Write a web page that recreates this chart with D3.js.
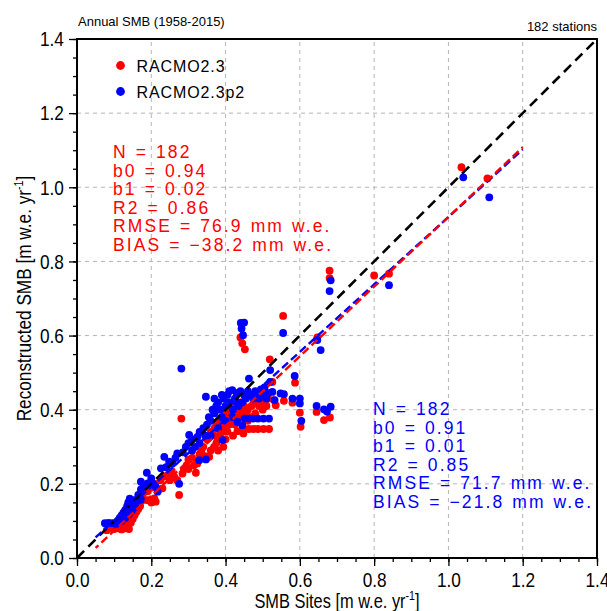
<!DOCTYPE html>
<html>
<head>
<meta charset="utf-8">
<script src="https://cdn.jsdelivr.net/npm/d3@7"></script>
<style>
  body { margin: 0; background: #fff; }
  svg text { font-family: "Liberation Sans", Arial, sans-serif; }
</style>
</head>
<body>
<div id="chart"></div>
<script>
// ---- data ----
const axisTicks = [0, 0.2, 0.4, 0.6, 0.8, 1.0, 1.2, 1.4];
const minorTicks = d3.range(0, 29).map(i => i * 0.05);

const seriesNames = ['RACMO2.3', 'RACMO2.3p2'];

// RACMO2.3 : [site, reconstructed]
const racmo23 = [
    [0.08, 0.075], [0.09, 0.08], [0.1, 0.078], [0.11, 0.08], [0.12, 0.077], [0.13, 0.08], [0.14, 0.078],
    [0.1, 0.09], [0.115, 0.088], [0.125, 0.092], [0.135, 0.09], [0.145, 0.095], [0.15, 0.105],
    [0.155, 0.115], [0.16, 0.125], [0.165, 0.132], [0.14, 0.1], [0.13, 0.1], [0.12, 0.1], [0.15, 0.13],
    [0.17, 0.14], [0.175, 0.155], [0.177, 0.17], [0.19, 0.156], [0.2, 0.15], [0.208, 0.161], [0.212, 0.152],
    [0.19, 0.18], [0.2, 0.19], [0.21, 0.2], [0.22, 0.185], [0.23, 0.188], [0.225, 0.21], [0.235, 0.22],
    [0.245, 0.225], [0.25, 0.21], [0.255, 0.235], [0.262, 0.219], [0.27, 0.21], [0.275, 0.17],
    [0.284, 0.228], [0.288, 0.24], [0.281, 0.376], [0.3, 0.24], [0.32, 0.23],
    [0.295, 0.25], [0.3, 0.265], [0.31, 0.27], [0.315, 0.25], [0.324, 0.255], [0.33, 0.28], [0.335, 0.29],
    [0.34, 0.3], [0.345, 0.275], [0.356, 0.273], [0.36, 0.29], [0.369, 0.3], [0.375, 0.31], [0.38, 0.32],
    [0.385, 0.33], [0.394, 0.3], [0.39, 0.34], [0.4, 0.35], [0.405, 0.341], [0.41, 0.36], [0.415, 0.37],
    [0.42, 0.385], [0.425, 0.36], [0.432, 0.342], [0.435, 0.38], [0.44, 0.395], [0.448, 0.336],
    [0.35, 0.32], [0.36, 0.34], [0.37, 0.35], [0.375, 0.365], [0.385, 0.37], [0.39, 0.38], [0.4, 0.39],
    [0.41, 0.4], [0.42, 0.41], [0.43, 0.4], [0.44, 0.42], [0.45, 0.41], [0.455, 0.39], [0.46, 0.4],
    [0.47, 0.41], [0.48, 0.42], [0.49, 0.41], [0.5, 0.4], [0.505, 0.42], [0.51, 0.41], [0.515, 0.43],
    [0.495, 0.43], [0.47, 0.38], [0.48, 0.39], [0.37, 0.33], [0.39, 0.36], [0.41, 0.38], [0.43, 0.37],
    [0.46, 0.37], [0.38, 0.29], [0.4, 0.32], [0.42, 0.33],
    [0.45, 0.348], [0.463, 0.348], [0.475, 0.348], [0.487, 0.348], [0.502, 0.348], [0.517, 0.348],
    [0.519, 0.536], [0.526, 0.475], [0.53, 0.426], [0.535, 0.412], [0.557, 0.424], [0.58, 0.419],
    [0.587, 0.473], [0.555, 0.653], [0.6, 0.392], [0.602, 0.354], [0.645, 0.394], [0.665, 0.372],
    [0.681, 0.379], [0.647, 0.595], [0.44, 0.595], [0.445, 0.579], [0.452, 0.563],
    [0.68, 0.775], [0.68, 0.755], [0.8, 0.762], [0.84, 0.767], [1.035, 1.054], [1.105, 1.024]
];

// RACMO2.3p2 : [site, reconstructed]
const racmo23p2 = [
    [0.075, 0.094], [0.085, 0.095], [0.095, 0.094], [0.105, 0.092], [0.11, 0.1], [0.115, 0.108],
    [0.12, 0.115], [0.125, 0.122], [0.13, 0.13], [0.135, 0.14], [0.138, 0.15], [0.142, 0.16],
    [0.12, 0.1], [0.13, 0.108], [0.14, 0.118], [0.148, 0.128], [0.145, 0.145], [0.15, 0.156],
    [0.16, 0.157], [0.168, 0.155], [0.172, 0.158], [0.158, 0.138], [0.165, 0.17], [0.172, 0.185],
    [0.172, 0.206], [0.18, 0.195], [0.188, 0.23], [0.19, 0.201], [0.2, 0.215], [0.205, 0.2],
    [0.212, 0.192], [0.217, 0.179], [0.226, 0.242], [0.235, 0.273], [0.24, 0.245], [0.248, 0.26],
    [0.257, 0.255], [0.265, 0.27], [0.27, 0.282], [0.275, 0.2], [0.281, 0.511], [0.285, 0.285],
    [0.293, 0.3], [0.3, 0.31], [0.302, 0.332], [0.31, 0.32], [0.318, 0.3], [0.324, 0.327],
    [0.329, 0.264], [0.347, 0.266], [0.33, 0.34], [0.34, 0.35], [0.345, 0.33], [0.347, 0.435],
    [0.35, 0.36], [0.355, 0.38], [0.36, 0.37], [0.365, 0.4], [0.37, 0.39], [0.375, 0.41], [0.38, 0.42],
    [0.385, 0.4], [0.39, 0.38], [0.392, 0.318], [0.395, 0.43], [0.4, 0.41], [0.405, 0.44], [0.41, 0.42],
    [0.418, 0.453], [0.42, 0.4], [0.425, 0.43], [0.43, 0.445], [0.432, 0.367], [0.435, 0.41],
    [0.44, 0.45], [0.445, 0.358], [0.445, 0.42], [0.45, 0.44], [0.455, 0.43], [0.46, 0.45],
    [0.463, 0.484], [0.47, 0.44], [0.475, 0.43], [0.48, 0.45], [0.485, 0.44], [0.49, 0.43],
    [0.495, 0.455], [0.5, 0.44], [0.505, 0.46], [0.51, 0.43], [0.515, 0.445],
    [0.36, 0.33], [0.38, 0.35], [0.4, 0.37], [0.42, 0.38], [0.37, 0.43], [0.39, 0.44], [0.41, 0.45],
    [0.43, 0.42], [0.33, 0.31], [0.31, 0.29],
    [0.451, 0.376], [0.463, 0.376], [0.475, 0.376], [0.487, 0.376], [0.502, 0.376], [0.517, 0.376],
    [0.52, 0.507], [0.52, 0.475], [0.526, 0.448], [0.532, 0.426], [0.548, 0.444], [0.557, 0.442],
    [0.58, 0.43], [0.586, 0.491], [0.6, 0.43], [0.6, 0.417], [0.604, 0.37], [0.555, 0.607],
    [0.441, 0.634], [0.45, 0.635], [0.443, 0.619], [0.447, 0.601], [0.645, 0.41], [0.665, 0.401],
    [0.683, 0.408], [0.673, 0.395], [0.647, 0.588], [0.656, 0.561], [0.683, 0.749], [0.68, 0.72],
    [0.84, 0.736], [1.04, 1.027], [1.11, 0.973]
];

// regression fits : [slope, intercept], drawn over [0.05, 1.2]
const fitRange = [0.05, 1.2];
const fit23 = [0.94, -0.02];
const fit23p2 = [0.91, 0.01];

const stats23 = ['N = 182', 'b0 = 0.94', 'b1 = 0.02', 'R2 = 0.86', 'RMSE = 76.9 mm w.e.', 'BIAS = \u221238.2 mm w.e.'];
const stats23p2 = ['N = 182', 'b0 = 0.91', 'b1 = 0.01', 'R2 = 0.85', 'RMSE = 71.7 mm w.e.', 'BIAS = \u221221.8 mm w.e.'];

// ---- layout ----
const width = 607, height = 611;
const margin = [39, 53, 77, 10]; // [top, bottom, left, right]
const red = '#ff0000', blue = '#0000ff';
const squeeze = 'scale(0.82,1)'; // narrow helvetica look

const svg = d3.select('#chart').append('svg')
    .attr('width', width).attr('height', height);

const x = d3.scaleLinear([0, 1.4], [margin[2], width - margin[3]]);
const y = d3.scaleLinear([0, 1.4], [height - margin[1], margin[0]]);

// Grid :
const grid = svg.append('g')
    .attr('stroke', '#b4b4b4').attr('stroke-width', 1).attr('stroke-dasharray', '4,4');
grid.selectAll('line.gx').data(axisTicks.slice(1, -1)).join('line')
    .attr('x1', d => x(d)).attr('x2', d => x(d))
    .attr('y1', y(0)).attr('y2', y(1.4));
grid.selectAll('line.gy').data(axisTicks.slice(1, -1)).join('line')
    .attr('y1', d => y(d)).attr('y2', d => y(d))
    .attr('x1', x(0)).attr('x2', x(1.4));

// Points :
svg.append('g').selectAll('circle').data(racmo23).join('circle')
    .attr('cx', d => x(d[0])).attr('cy', d => y(d[1])).attr('r', 3.9).attr('fill', red);
svg.append('g').selectAll('circle').data(racmo23p2).join('circle')
    .attr('cx', d => x(d[0])).attr('cy', d => y(d[1])).attr('r', 3.9).attr('fill', blue);

// 1:1 line and fits :
const line = d3.line().x(d => x(d[0])).y(d => y(d[1]));
svg.append('path')
    .datum([[0, 0], [1.4, 1.4]])
    .attr('d', line).attr('fill', 'none')
    .attr('stroke', '#000').attr('stroke-width', 2.6).attr('stroke-dasharray', '10,6');

[[fit23p2, blue, 0], [fit23, red, 4]].forEach(([f, color, offset]) => {
    svg.append('path')
        .datum(fitRange.map(v => [v, f[0] * v + f[1]]))
        .attr('d', line).attr('fill', 'none')
        .attr('stroke', color).attr('stroke-width', 2.4)
        .attr('stroke-dasharray', '8,4').attr('stroke-dashoffset', offset);
});

// Axis :
const fmt = d3.format('.1f');
const axisX = svg.append('g').attr('transform', `translate(0,${y(0)})`);
axisX.call(d3.axisBottom(x).tickValues(minorTicks).tickSize(4).tickSizeOuter(0).tickFormat(''));
axisX.call(g => g.append('g')
    .call(d3.axisBottom(x).tickValues(axisTicks).tickSize(8).tickSizeOuter(0).tickPadding(6).tickFormat(fmt)));

const axisY = svg.append('g').attr('transform', `translate(${x(0)},0)`);
axisY.call(d3.axisLeft(y).tickValues(minorTicks).tickSize(4).tickSizeOuter(0).tickFormat(''));
axisY.call(g => g.append('g')
    .call(d3.axisLeft(y).tickValues(axisTicks).tickSize(8).tickSizeOuter(0).tickPadding(8).tickFormat(fmt)));

svg.selectAll('.domain').remove();
svg.selectAll('.tick line').attr('stroke', '#000').attr('stroke-width', 1.3);
svg.selectAll('.tick text')
    .attr('fill', '#000')
    .style('font-family', '"Liberation Sans", Arial, sans-serif')
    .style('font-size', '21px')
    .attr('transform', squeeze);

// Frame :
svg.append('rect')
    .attr('x', x(0)).attr('y', y(1.4))
    .attr('width', x(1.4) - x(0)).attr('height', y(0) - y(1.4))
    .attr('fill', 'none').attr('stroke', '#000').attr('stroke-width', 2);

// Axis labels :
const labelX = svg.append('text')
    .attr('transform', `translate(${(x(0) + x(1.4)) / 2},608) ${squeeze}`)
    .attr('text-anchor', 'middle').style('font-size', '20px');
labelX.append('tspan').text('SMB Sites [m w.e. yr');
labelX.append('tspan').attr('dy', -8).style('font-size', '13px').text('-1');
labelX.append('tspan').attr('dy', 8).text(']');

const labelY = svg.append('text')
    .attr('transform', `translate(31,${(y(0) + y(1.4)) / 2}) rotate(-90) ${squeeze}`)
    .attr('text-anchor', 'middle').style('font-size', '21px');
labelY.append('tspan').text('Reconstructed SMB [m w.e. yr');
labelY.append('tspan').attr('dy', -8).style('font-size', '13px').text('-1');
labelY.append('tspan').attr('dy', 8).text(']');

// Titles :
svg.append('text').attr('x', 78).attr('y', 26)
    .style('font-size', '13px').text('Annual SMB (1958-2015)');
svg.append('text').attr('x', 597).attr('y', 31).attr('text-anchor', 'end')
    .style('font-size', '13px').text('182 stations');

// Legend :
const legend = svg.append('g').selectAll('g').data(seriesNames).join('g')
    .attr('transform', (d, i) => `translate(120.5,${65.5 + i * 26})`);
legend.append('circle').attr('r', 4.4).attr('fill', (d, i) => i ? blue : red);
legend.append('text').attr('x', 16).attr('y', 6)
    .style('font-size', '16px').style('letter-spacing', '0.9px').text(d => d);

// Statistics :
[[stats23, red, 113, 158], [stats23p2, blue, 373, 415]].forEach(([lines, color, tx, ty]) => {
    svg.append('g').selectAll('text').data(lines).join('text')
        .attr('x', tx).attr('y', (d, i) => ty + i * 18.5)
        .attr('fill', color)
        .style('font-size', '17.5px').style('letter-spacing', '2.1px').style('word-spacing', '1px')
        .text(d => d);
});
</script>
</body>
</html>
